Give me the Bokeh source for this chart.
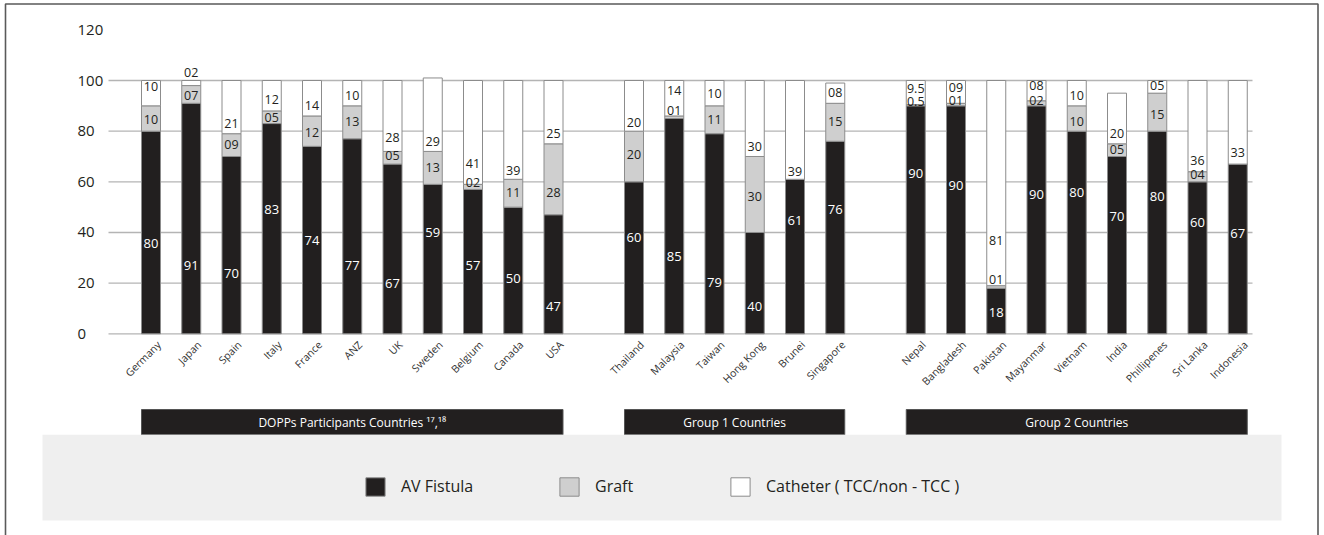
import math
from bokeh.plotting import figure
from bokeh.models import (ColumnDataSource, Range1d, LinearAxis, FixedTicker,
                          Legend, LegendItem)
from bokeh.core.properties import value
from bokeh.embed import file_html
from bokeh.resources import INLINE

# ---------------- data ----------------
countries = ["Germany", "Japan", "Spain", "Italy", "France", "ANZ", "UK", "Sweden",
             "Belgium", "Canada", "USA",
             "Thailand", "Malaysia", "Taiwan", "Hong Kong", "Brunei", "Singapore",
             "Nepal", "Bangladesh", "Pakistan", "Mayanmar", "Vietnam", "India",
             "Phillipenes", "Sri Lanka", "Indonesia"]
group_names = ["DOPPs Participants Countries \u00b9\u2077,\u00b9\u2078",
               "Group 1 Countries", "Group 2 Countries"]
group_sizes = [11, 6, 9]

av_fistula = [80, 91, 70, 83, 74, 77, 67, 59, 57, 50, 47,
              60, 85, 79, 40, 61, 76,
              90, 90, 18, 90, 80, 70, 80, 60, 67]
graft = [10, 7, 9, 5, 12, 13, 5, 13, 2, 11, 28,
         20, 1, 11, 30, 0, 15,
         0.5, 1, 1, 2, 10, 5, 15, 4, 0]
catheter = [10, 2, 21, 12, 14, 10, 28, 29, 41, 39, 25,
            20, 14, 10, 30, 39, 8,
            9.5, 9, 81, 8, 10, 20, 5, 36, 33]

# where each value label sits (in % units)
av_label_at = [35.8, 27, 23.7, 49, 36.8, 27, 20, 39.9, 27, 21.7, 10.9,
               37.9, 30.5, 20.4, 10.9, 44.7, 49,
               63.2, 58.5, 8.5, 54.9, 55.7, 46.4, 54.2, 43.8, 39.5]
graft_label_at = [84.6, 94, 74.7, 85.5, 79.6, 84, 70.4, 65.8, 59.6, 55.9, 55.9,
                  70.7, 88, 84.6, 54.3, None, 83.8,
                  91.8, 92, 21.5, 92, 84, 72.9, 86.5, 62.9, None]
catheter_label_at = [97.6, 103.3, 82.9, 92.4, 90.1, 94.1, 77.4, 76, 67.1, 64.5, 79,
                     83.5, 96, 95, 74, 64.2, 95.1,
                     97, 97.4, 36.8, 98, 94.1, 79.2, 98, 68.4, 71.5]

y_ticks = [0, 20, 40, 60, 80, 100, 120]
grid_values = [0, 20, 40, 60, 80, 100]
legend_labels = ["AV Fistula", "Graft", "Catheter ( TCC/non - TCC )"]

# ---------------- layout / style ----------------
W, H = 1324, 535
X0_PX, SLOT_PX = 150.5, 40.25      # pixel centre of first bar, pixels per slot
Y0_PX, UNIT_PX = 333.3, 2.533      # pixel row of 0 %, pixels per %
BAR_W = 19 / SLOT_PX
LABEL_SHIFT = 8 / SLOT_PX          # rotated names end a little right of bar centre
FONT = "Open Sans"
AV_C, GRAFT_C, CATH_C = "#221f1f", "#cfcfcf", "#ffffff"
EDGE_C = "#8c8c8c"
TEXT_C = "#231f20"


def px2x(px):
    return (px - X0_PX) / SLOT_PX


def px2y(py):
    return (Y0_PX - py) / UNIT_PX


def fmt(v):
    if float(v).is_integer():
        return "%02d" % int(v)
    return str(v)


# slot positions: one empty slot between groups
xpos = []
s = 0
group_bounds = []
for n in group_sizes:
    group_bounds.append((s, s + n - 1))
    for _ in range(n):
        xpos.append(s)
        s += 1
    s += 1

p = figure(width=W, height=H, output_backend="svg", toolbar_location=None,
           x_range=Range1d(px2x(0), px2x(W)), y_range=Range1d(px2y(H), px2y(0)),
           x_axis_location=None, y_axis_location=None, min_border=0,
           background_fill_color="white", border_fill_color="white")
p.outline_line_color = None
p.grid.visible = False

# outer frame border (left, top, right)
p.line(x=[px2x(5), px2x(5), px2x(1317.5), px2x(1317.5)],
       y=[px2y(H), px2y(3.5), px2y(3.5), px2y(H)],
       line_color="#5a5a5a", line_width=1.6)

# grid lines
p.segment(x0=[px2x(108)] * len(grid_values), x1=[px2x(1252)] * len(grid_values),
          y0=grid_values, y1=grid_values, line_color="#b4b4b4", line_width=1.3)

src = ColumnDataSource(dict(x=xpos, av=av_fistula, graft=graft, cath=catheter))
bars = p.vbar_stack(["av", "graft", "cath"], x="x", width=BAR_W, source=src,
                    fill_color=[AV_C, GRAFT_C, CATH_C], line_color=EDGE_C,
                    line_width=1)

# value labels
p.text(x=xpos, y=av_label_at, text=[fmt(v) for v in av_fistula],
       text_color="white", text_font=value(FONT), text_font_size="13px",
       text_align="center", text_baseline="middle")
gx = [x for x, v, a in zip(xpos, graft, graft_label_at) if v and a is not None]
gy = [a for v, a in zip(graft, graft_label_at) if v and a is not None]
gt = [fmt(v) for v, a in zip(graft, graft_label_at) if v and a is not None]
p.text(x=gx, y=gy, text=gt, text_color=TEXT_C, text_font=value(FONT),
       text_font_size="12.5px", text_align="center", text_baseline="middle")
p.text(x=xpos, y=catheter_label_at, text=[fmt(v) for v in catheter],
       text_color=TEXT_C, text_font=value(FONT), text_font_size="12.5px",
       text_align="center", text_baseline="middle")

# y axis (labels left-aligned, drawn at a fixed place)
yaxis = LinearAxis(fixed_location=px2x(74), ticker=FixedTicker(ticks=y_ticks))
yaxis.axis_line_color = None
yaxis.major_tick_line_color = None
yaxis.minor_tick_line_color = None
yaxis.major_tick_out = 0
yaxis.major_label_standoff = 3
yaxis.major_label_text_font = FONT
yaxis.major_label_text_font_size = "15px"
yaxis.major_label_text_color = TEXT_C
p.add_layout(yaxis, "right")

# x axis with rotated country names
xticks = [x + LABEL_SHIFT for x in xpos]
xaxis = LinearAxis(fixed_location=0, ticker=FixedTicker(ticks=xticks))
xaxis.major_label_overrides = {t: c for t, c in zip(xticks, countries)}
xaxis.major_label_orientation = math.pi / 4
xaxis.axis_line_color = None
xaxis.major_tick_line_color = None
xaxis.minor_tick_line_color = None
xaxis.major_tick_out = 0
xaxis.major_label_standoff = 9
xaxis.major_label_text_font = FONT
xaxis.major_label_text_font_size = "10.5px"
xaxis.major_label_text_color = "#333333"
p.add_layout(xaxis, "below")

# group bars
gl = [a - BAR_W / 2 for a, b in group_bounds]
gr = [b + BAR_W / 2 for a, b in group_bounds]
p.quad(left=gl, right=gr, bottom=px2y(434.3), top=px2y(409),
       fill_color=AV_C, line_color="#555555", line_width=1)
p.text(x=[(a + b) / 2 for a, b in zip(gl, gr)], y=[px2y(421.5)] * 3,
       text=group_names, text_color="white", text_font=value(FONT),
       text_font_size="12px", text_align="center", text_baseline="middle")

# legend panel
p.quad(left=px2x(42), right=px2x(1281), bottom=px2y(520), top=px2y(434.3),
       fill_color="#efefef", line_color=None)
for r, lab, sx in zip(bars, legend_labels, [363, 557, 728]):
    lg = Legend(items=[LegendItem(label=lab, renderers=[r])],
                location=(sx, H - 497.5), padding=0, margin=0,
                glyph_width=24, glyph_height=23, label_standoff=14,
                label_text_font=FONT, label_text_font_size="16px",
                label_text_color=TEXT_C, border_line_color=None,
                background_fill_alpha=0)
    p.add_layout(lg, "center")

open("out.html", "w").write(file_html(p, INLINE))
